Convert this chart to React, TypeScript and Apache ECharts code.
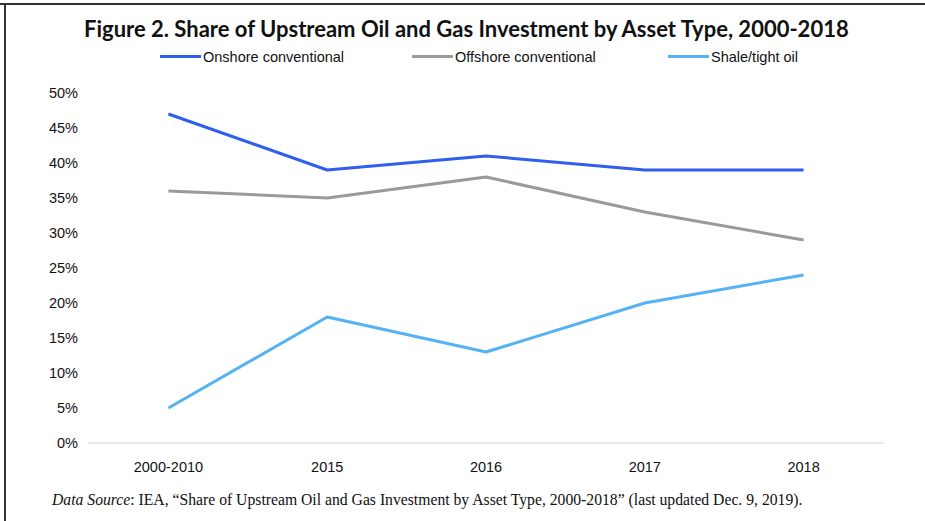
import React, { useEffect, useRef } from "react";
import * as echarts from "echarts";

const categories = ["2000-2010", "2015", "2016", "2017", "2018"];
const onshore = [47, 39, 41, 39, 39];
const offshore = [36, 35, 38, 33, 29];
const shale = [5, 18, 13, 20, 24];
const seriesNames = ["Onshore conventional", "Offshore conventional", "Shale/tight oil"];
const colors = ["#2f5ef0", "#9a9a9a", "#55b2f4"];

const narrow = "'Liberation Sans Narrow', 'Arial Narrow', 'Liberation Sans', sans-serif";

export default function App() {
  const ref = useRef<HTMLDivElement>(null);
  useEffect(() => {
    if (!ref.current) return;
    const chart = echarts.init(ref.current, null, { renderer: "svg" });
    const legendLefts = [160, 412, 668];
    chart.setOption({
      animation: false,
      backgroundColor: "#ffffff",
      title: {
        text: "Figure 2. Share of Upstream Oil and Gas Investment by Asset Type, 2000-2018",
        left: 79,
        top: 12,
        textStyle: { fontFamily: "Lato", fontWeight: "bold", fontSize: 22, color: "#111" },
      },
      legend: seriesNames.map((n, i) => ({
        data: [n],
        left: legendLefts[i],
        top: 49,
        padding: 0,
        icon: "rect",
        itemWidth: 41,
        itemHeight: 3,
        itemGap: 0,
        textStyle: { fontFamily: narrow, fontSize: 14.5, color: "#111", padding: [0, 0, 0, -3] },
      })),
      grid: { left: 89, right: 42, top: 93, bottom: 78, containLabel: false },
      xAxis: {
        type: "category",
        data: categories,
        boundaryGap: true,
        axisLine: { lineStyle: { color: "#e0e0e0", width: 1.5 } },
        axisTick: { show: false },
        axisLabel: { fontFamily: narrow, fontSize: 14.5, color: "#111", margin: 16 },
      },
      yAxis: {
        type: "value",
        min: 0,
        max: 50,
        interval: 5,
        splitLine: { show: false },
        axisLine: { show: false },
        axisTick: { show: false },
        axisLabel: { fontFamily: narrow, fontSize: 14.5, color: "#111", formatter: "{value}%", margin: 11 },
      },
      series: [onshore, offshore, shale].map((d, i) => ({
        name: seriesNames[i],
        type: "line",
        data: d,
        symbol: "none",
        lineStyle: { color: colors[i], width: 3 },
        itemStyle: { color: colors[i] },
      })),
      graphic: [
        { type: "line", shape: { x1: 0, y1: 4, x2: 925, y2: 4 }, style: { stroke: "#333", lineWidth: 2 } },
        { type: "line", shape: { x1: 5, y1: 4, x2: 5, y2: 521 }, style: { stroke: "#333", lineWidth: 2 } },
        {
          type: "text",
          left: 52,
          top: 491,
          style: {
            text: "{i|Data Source}: IEA, “Share of Upstream Oil and Gas Investment by Asset Type, 2000-2018” (last updated Dec. 9, 2019).",
            font: "15.7px 'Liberation Serif', serif",
            fill: "#111",
            rich: {
              i: { fontStyle: "italic", fontFamily: "'Liberation Serif', serif", fontSize: 15.7, fill: "#111" },
            },
          },
        },
      ],
    });
    return () => chart.dispose();
  }, []);
  return <div ref={ref} style={{ width: 925, height: 521, position: "absolute", left: 0, top: 0 }} />;
}
